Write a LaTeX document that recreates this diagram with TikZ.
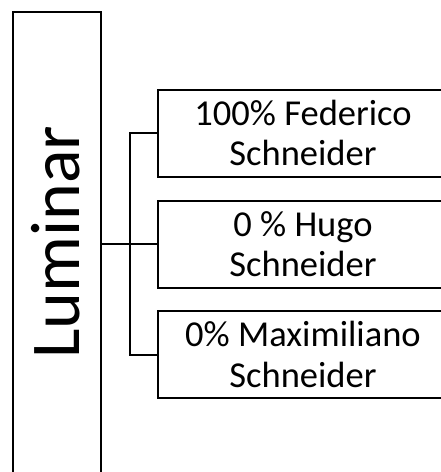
\documentclass[tikz,border=0pt]{standalone}
\usepackage{fontspec}
\setmainfont{Carlito}
\begin{document}
\begin{tikzpicture}[x=1pt,y=-1pt,
  box/.style={draw=black, line width=2pt, rectangle, inner sep=0pt},
  member/.style={box, minimum width=290pt, minimum height=87pt, align=center,
    font=\fontsize{36.5}{40.5}\selectfont},
  link/.style={draw=black, line width=2pt}]
  \useasboundingbox (0,0) rectangle (441,472);
  \clip (0,0) rectangle (441,472);
  \fill[white] (0,0) rectangle (441,472);

  % company column
  \node[box, minimum width=88pt, minimum height=464pt] (lum) at (57,244) {};
  \node[rotate=90, font=\fontsize{70}{84}\selectfont, inner sep=0pt] (lumtext) at (56,242) {Luminar};

  % owners
  \node[member] (b1) at (303,133) {100\% Federico\\Schneider};
  \node[member] (b2) at (303,244) {0 \% Hugo\\Schneider};
  \node[member] (b3) at (303,354.5) {0\% Maximiliano\\Schneider};

  % bracket connector
  \coordinate (jx) at (130,244);
  \draw[link] (lum.east |- b2.west) -- (b2.west);
  \draw[link] (b1.west) -| (jx |- b3.west) -- (b3.west);
\end{tikzpicture}
\end{document}
